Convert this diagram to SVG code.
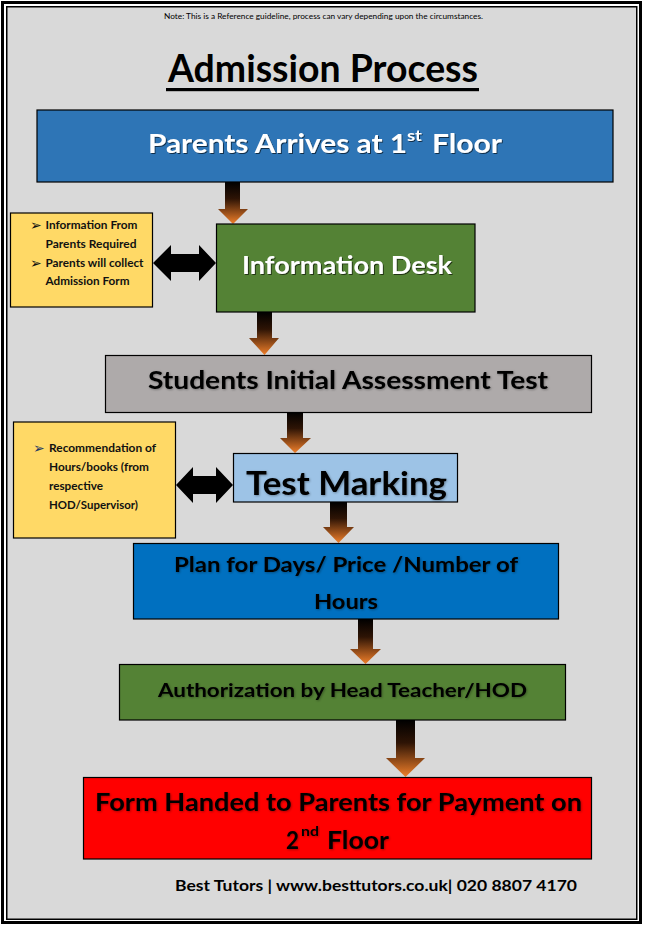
<svg xmlns="http://www.w3.org/2000/svg" width="646" height="927" viewBox="0 0 646 927">
<style>
.box{stroke:#000;stroke-width:1.2}
.t{font-family:Lato,"Liberation Sans",sans-serif;font-weight:bold}
.w{fill:#fff;filter:url(#sh)}
.k{fill:#000;filter:url(#sh2)}
.side{font-family:Lato,"Liberation Sans",sans-serif;font-weight:bold;font-size:11px;fill:#111}
.bul{font-family:"DejaVu Sans",sans-serif;font-weight:bold;font-size:14px;fill:#111}
.dn{fill:url(#g)}
.dbl{fill:#000}
</style>
<defs>
<linearGradient id="g" x1="0" y1="0" x2="0" y2="1">
<stop offset="0" stop-color="#000"/>
<stop offset="0.4" stop-color="#2e1405"/>
<stop offset="1" stop-color="#f07f2a"/>
</linearGradient>
<filter id="sh" x="-5%" y="-20%" width="110%" height="140%">
<feDropShadow dx="1" dy="1" stdDeviation="0.7" flood-color="#000" flood-opacity="0.6"/>
</filter>
<filter id="sh2" x="-5%" y="-20%" width="110%" height="140%">
<feDropShadow dx="0.8" dy="0.8" stdDeviation="0.8" flood-color="#000" flood-opacity="0.35"/>
</filter>
</defs>
<rect x="0" y="0" width="646" height="927" fill="#fff"/>
<rect x="6.75" y="6.75" width="630" height="912.5" fill="#d9d9d9" stroke="#000" stroke-width="1.5"/>
<rect x="2.5" y="2.5" width="638" height="920" fill="none" stroke="#000" stroke-width="3"/>

<g id="note">
<text x="164" y="19" font-family="Lato,'Liberation Sans',sans-serif" font-size="7.5" textLength="319" lengthAdjust="spacingAndGlyphs">Note: This is a Reference guideline, process can vary depending upon the circumstances.</text>
</g>
<g id="title">
<text x="168" y="82" class="t" font-size="38" textLength="310" lengthAdjust="spacingAndGlyphs">Admission Process</text>
<rect x="166" y="88" width="313" height="3.2" fill="#000"/>
</g>

<g id="connectors">
<path class="dn" d="M225,182 H240 V209 H248 L233,224 L218,209 H225 Z"/>
<path class="dn" d="M257,312 H272 V338 H279 L264.5,355 L249,338 H257 Z"/>
<path class="dn" d="M287,412 H303 V438 H311 L295,453 L280,438 H287 Z"/>
<path class="dn" d="M330,502 H347 V527 H354 L338.5,543 L323,527 H330 Z"/>
<path class="dn" d="M358,619 H373 V649 H381 L365.5,664 L350,649 H358 Z"/>
<path class="dn" d="M396,720 H415 V758 H425 L405.5,777 L386,758 H396 Z"/>
<path class="dbl" d="M153,263 L171,245 L171,254 L199,254 L199,245 L216,263 L199,281 L199,272 L171,272 L171,281 Z"/>
<path class="dbl" d="M176,485 L193,467 L193,476 L216,476 L216,467 L233,485 L216,503 L216,494 L193,494 L193,503 Z"/>
</g>

<g id="parents-arrive">
<rect class="box" x="37" y="110" width="576" height="72" fill="#2e75b6"/>
<text x="148" y="153" class="t w" font-size="27" textLength="259" lengthAdjust="spacingAndGlyphs">Parents Arrives at 1</text>
<text x="407" y="141" class="t w" font-size="15" textLength="15" lengthAdjust="spacingAndGlyphs">st</text>
<text x="432" y="153" class="t w" font-size="27" textLength="70" lengthAdjust="spacingAndGlyphs">Floor</text>
</g>

<g id="info-note">
<rect class="box" x="10.5" y="213" width="142" height="94" fill="#ffd966"/>
<text x="30" y="230" class="bul">➢</text>
<text x="45.5" y="229" class="side" textLength="92" lengthAdjust="spacingAndGlyphs">Information From</text>
<text x="45.5" y="248" class="side" textLength="91" lengthAdjust="spacingAndGlyphs">Parents Required</text>
<text x="30" y="268" class="bul">➢</text>
<text x="45.5" y="267" class="side" textLength="98" lengthAdjust="spacingAndGlyphs">Parents will collect</text>
<text x="45.5" y="285" class="side" textLength="84" lengthAdjust="spacingAndGlyphs">Admission Form</text>
</g>

<g id="information-desk">
<rect class="box" x="216.5" y="224" width="258.5" height="88" fill="#548235"/>
<text x="242" y="274" class="t w" font-size="24" textLength="210" lengthAdjust="spacingAndGlyphs">Information Desk</text>
</g>

<g id="assessment-test">
<rect class="box" x="105.5" y="355.5" width="486" height="57" fill="#aeaaaa"/>
<text x="148" y="389" class="t k" font-size="24" textLength="400" lengthAdjust="spacingAndGlyphs">Students Initial Assessment Test</text>
</g>

<g id="recommendation-note">
<rect class="box" x="13.5" y="422" width="162" height="116" fill="#ffd966"/>
<text x="33" y="453" class="bul" style="fill:#1f3864">➢</text>
<text x="49" y="452" class="side" textLength="107" lengthAdjust="spacingAndGlyphs">Recommendation of</text>
<text x="49" y="471" class="side" textLength="100" lengthAdjust="spacingAndGlyphs">Hours/books (from</text>
<text x="49" y="490" class="side" textLength="54" lengthAdjust="spacingAndGlyphs">respective</text>
<text x="49" y="509" class="side" textLength="89" lengthAdjust="spacingAndGlyphs">HOD/Supervisor)</text>
</g>

<g id="test-marking">
<rect class="box" x="233.5" y="453.5" width="224" height="48.5" fill="#9dc3e6"/>
<text x="246" y="495" class="t k" font-size="32" textLength="201" lengthAdjust="spacingAndGlyphs">Test Marking</text>
</g>

<g id="plan">
<rect class="box" x="133.5" y="543.5" width="425" height="75.5" fill="#0070c0"/>
<text x="174" y="572" class="t k" font-size="21" textLength="344" lengthAdjust="spacingAndGlyphs">Plan for Days/ Price /Number of</text>
<text x="314" y="609" class="t k" font-size="21" textLength="64" lengthAdjust="spacingAndGlyphs">Hours</text>
</g>

<g id="authorization">
<rect class="box" x="119.5" y="664.5" width="446" height="55.5" fill="#548235"/>
<text x="158" y="697" class="t k" font-size="19" textLength="369" lengthAdjust="spacingAndGlyphs">Authorization by Head Teacher/HOD</text>
</g>

<g id="form-handed">
<rect class="box" x="83.5" y="777.5" width="508" height="81.5" fill="#ff0000"/>
<text x="95" y="811" class="t k" font-size="25" textLength="487" lengthAdjust="spacingAndGlyphs">Form Handed to Parents for Payment on</text>
<text x="286" y="849" class="t k" font-size="25" textLength="13" lengthAdjust="spacingAndGlyphs">2</text>
<text x="301" y="836" class="t k" font-size="13" textLength="18" lengthAdjust="spacingAndGlyphs">nd</text>
<text x="327" y="849" class="t k" font-size="25" textLength="62" lengthAdjust="spacingAndGlyphs">Floor</text>
</g>

<g id="footer">
<text x="175" y="891" class="t" font-size="15" fill="#000" textLength="402" lengthAdjust="spacingAndGlyphs">Best Tutors | www.besttutors.co.uk| 020 8807 4170</text>
</g>
</svg>
